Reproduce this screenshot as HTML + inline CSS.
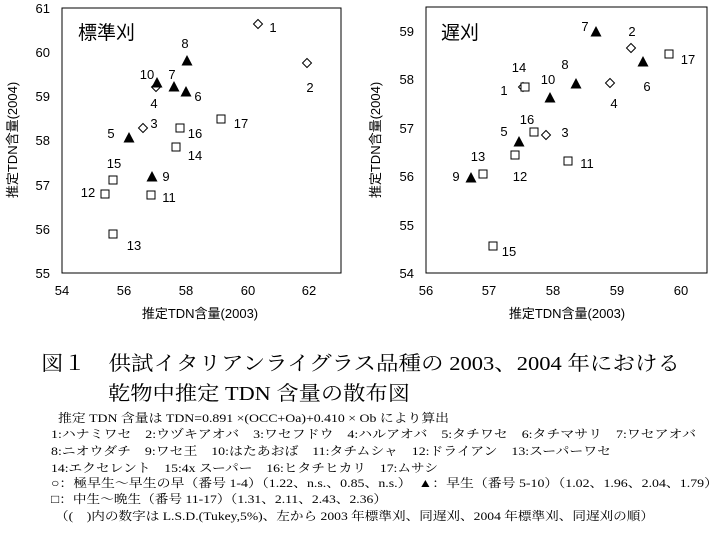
<!DOCTYPE html>
<html><head><meta charset="utf-8"><style>
body{margin:0;background:#fff;width:719px;height:559px;overflow:hidden}
svg{display:block}
.t{font-family:"Liberation Sans","Noto Sans CJK JP",sans-serif;font-size:13px;fill:#000}
.s{font-family:"Liberation Serif","Noto Serif CJK SC","Noto Sans CJK JP",serif;fill:#000}
</style></head><body>
<svg width="719" height="559" viewBox="0 0 719 559" xmlns="http://www.w3.org/2000/svg">
<defs>
<path id="d" d="M0,-4.5 L4.5,0 L0,4.5 L-4.5,0 Z" fill="#fff" stroke="#000" stroke-width="1"/>
<path id="tr" d="M0,-6 L5.5,4.5 L-5.5,4.5 Z" fill="#000"/>
<rect id="sq" x="-4" y="-4" width="8" height="8" fill="#fff" stroke="#000" stroke-width="1"/>
</defs>
<!-- LEFT -->
<rect x="62" y="8" width="279" height="265" fill="none" stroke="#000"/>
<g class="t" text-anchor="end">
<text x="50" y="13">61</text><text x="50" y="57">60</text><text x="50" y="101">59</text>
<text x="50" y="145">58</text><text x="50" y="190">57</text><text x="50" y="234">56</text><text x="50" y="278">55</text>
</g>
<g class="t" text-anchor="middle">
<text x="62" y="295">54</text><text x="124" y="295">56</text><text x="186" y="295">58</text>
<text x="248" y="295">60</text><text x="309" y="295">62</text>
<text x="200" y="318">推定TDN含量(2003)</text>
<text transform="translate(17,140) rotate(-90)">推定TDN含量(2004)</text>
</g>
<text x="78" y="39" class="t" style="font-size:19px">標準刈</text>
<use href="#d" x="258" y="24"/><use href="#d" x="307" y="63"/><use href="#d" x="143" y="128"/><use href="#d" x="156" y="87"/>
<use href="#tr" x="129" y="138"/><use href="#tr" x="186" y="92"/><use href="#tr" x="174" y="87"/><use href="#tr" x="187" y="61"/><use href="#tr" x="152" y="177"/><use href="#tr" x="157" y="83"/>
<use href="#sq" x="151" y="195"/><use href="#sq" x="105" y="194"/><use href="#sq" x="113" y="234"/><use href="#sq" x="176" y="147"/><use href="#sq" x="113" y="180"/><use href="#sq" x="180" y="128"/><use href="#sq" x="221" y="119"/>
<g class="t" text-anchor="middle">
<text x="273" y="32">1</text><text x="310" y="92">2</text><text x="154" y="128">3</text><text x="154" y="108">4</text>
<text x="111" y="138">5</text><text x="198" y="101">6</text><text x="172" y="79">7</text><text x="185" y="48">8</text>
<text x="166" y="181">9</text><text x="147" y="79">10</text><text x="169" y="202">11</text><text x="88" y="197">12</text>
<text x="134" y="250">13</text><text x="195" y="160">14</text><text x="114" y="168">15</text><text x="195" y="138">16</text><text x="241" y="128">17</text>
</g>
<!-- RIGHT -->
<rect x="426" y="7" width="281" height="266" fill="none" stroke="#000"/>
<g class="t" text-anchor="end">
<text x="414" y="36">59</text><text x="414" y="84">58</text><text x="414" y="133">57</text>
<text x="414" y="181">56</text><text x="414" y="230">55</text><text x="414" y="278">54</text>
</g>
<g class="t" text-anchor="middle">
<text x="426" y="295">56</text><text x="489" y="295">57</text><text x="553" y="295">58</text>
<text x="617" y="295">59</text><text x="681" y="295">60</text>
<text x="567" y="318">推定TDN含量(2003)</text>
<text transform="translate(380,140) rotate(-90)">推定TDN含量(2004)</text>
</g>
<text x="441" y="39" class="t" style="font-size:19px">遅刈</text>
<use href="#d" x="523" y="87"/><use href="#d" x="631" y="48"/><use href="#d" x="546" y="135"/><use href="#d" x="610" y="83"/>
<use href="#tr" x="519" y="142"/><use href="#tr" x="643" y="62"/><use href="#tr" x="596" y="32"/><use href="#tr" x="576" y="84"/><use href="#tr" x="471" y="178"/><use href="#tr" x="550" y="98"/>
<use href="#sq" x="568" y="161"/><use href="#sq" x="515" y="155"/><use href="#sq" x="483" y="174"/><use href="#sq" x="525" y="87"/><use href="#sq" x="493" y="246"/><use href="#sq" x="534" y="132"/><use href="#sq" x="669" y="54"/>
<g class="t" text-anchor="middle">
<text x="504" y="95">1</text><text x="632" y="36">2</text><text x="565" y="137">3</text><text x="614" y="108">4</text>
<text x="504" y="136">5</text><text x="647" y="91">6</text><text x="585" y="31">7</text><text x="565" y="69">8</text>
<text x="456" y="181">9</text><text x="548" y="84">10</text><text x="587" y="168">11</text><text x="520" y="181">12</text>
<text x="478" y="161">13</text><text x="519" y="72">14</text><text x="509" y="256">15</text><text x="527" y="124">16</text><text x="688" y="64">17</text>
</g>
<!-- caption -->
<text x="41" y="370" class="s" style="font-size:20px" textLength="639" lengthAdjust="spacingAndGlyphs">図１　供試イタリアンライグラス品種の 2003、2004 年における</text>
<text x="108" y="400" class="s" style="font-size:20px" textLength="302" lengthAdjust="spacingAndGlyphs">乾物中推定 TDN 含量の散布図</text>
<g class="s" style="font-size:12px">
<text x="58" y="422" textLength="391" lengthAdjust="spacingAndGlyphs">推定 TDN 含量は TDN=0.891 ×(OCC+Oa)+0.410 × Ob により算出</text>
<text x="51" y="438" textLength="645" lengthAdjust="spacingAndGlyphs">1:ハナミワセ　2:ウヅキアオバ　3:ワセフドウ　4:ハルアオバ　5:タチワセ　6:タチマサリ　7:ワセアオバ</text>
<text x="51" y="455" textLength="560" lengthAdjust="spacingAndGlyphs">8:ニオウダチ　9:ワセ王　10:はたあおば　11:タチムシャ　12:ドライアン　13:スーパーワセ</text>
<text x="51" y="472" textLength="387" lengthAdjust="spacingAndGlyphs">14:エクセレント　15:4x スーパー　16:ヒタチヒカリ　17:ムサシ</text>
<text x="51" y="487" textLength="667" lengthAdjust="spacingAndGlyphs">○：極早生～早生の早（番号 1-4）（1.22、n.s.、0.85、n.s.）　▲：早生（番号 5-10）（1.02、1.96、2.04、1.79）</text>
<text x="51" y="503" textLength="336" lengthAdjust="spacingAndGlyphs">□：中生～晩生（番号 11-17）（1.31、2.11、2.43、2.36）</text>
<text x="55" y="520" textLength="599" lengthAdjust="spacingAndGlyphs">（(　)内の数字は L.S.D.(Tukey,5%)、左から 2003 年標準刈、同遅刈、2004 年標準刈、同遅刈の順）</text>
</g>
</svg>
</body></html>
